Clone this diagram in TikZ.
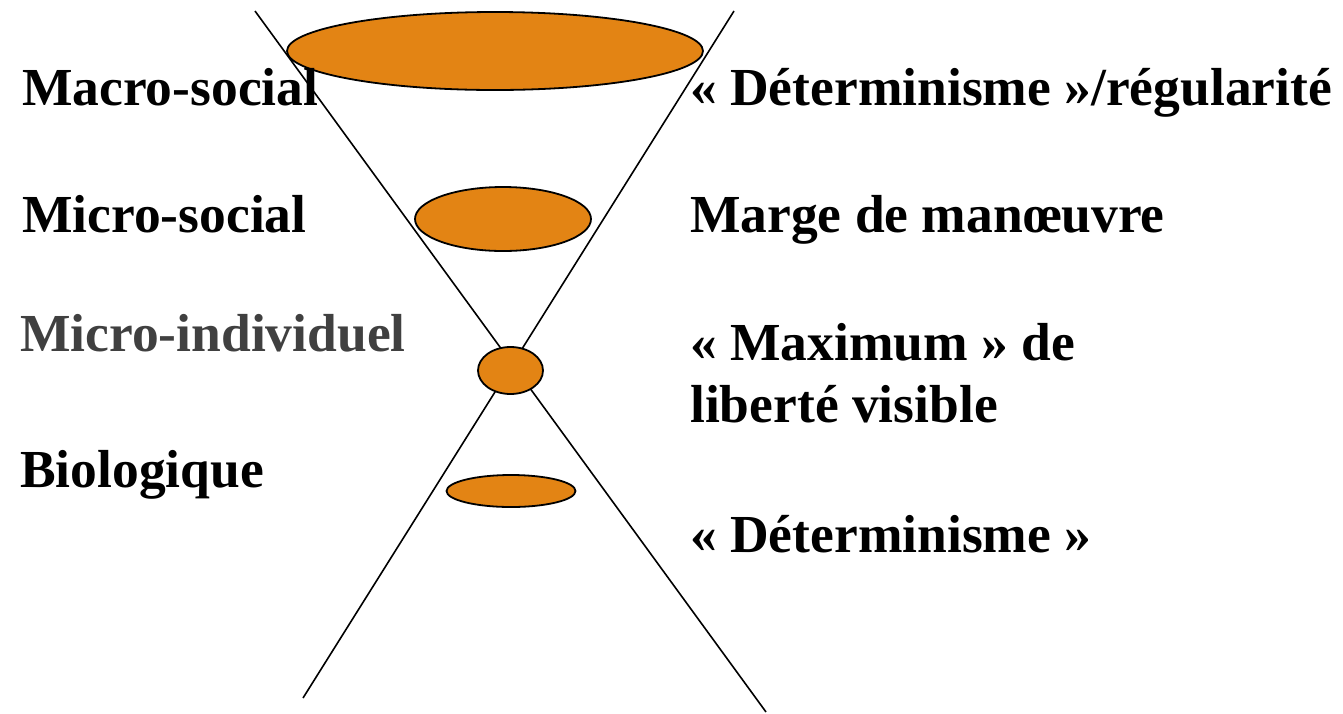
\documentclass[tikz,border=0pt]{standalone}
\usepackage{fontspec}
\setmainfont{Liberation Serif}
\usetikzlibrary{shapes.geometric}
\definecolor{discfill}{HTML}{E38414}
\definecolor{greytext}{HTML}{404040}
\begin{document}
\begin{tikzpicture}[x=1pt,y=-1pt,
  disc/.style={ellipse, draw=black, line width=1.8pt, fill=discfill, inner sep=0pt},
  lbl/.style={font=\fontsize{53.5}{60}\selectfont\bfseries, anchor=base west, inner sep=0pt},
  cone/.style={line width=1.6pt, black}]
\useasboundingbox (0,0) rectangle (1343,713);
% cone lines
\coordinate (a1) at (255,11);
\coordinate (a2) at (766,712);
\coordinate (b1) at (734,11);
\coordinate (b2) at (303,698);
\draw[cone] (a1) -- (a2);
\draw[cone] (b1) -- (b2);
% discs
\node[disc, minimum width=416pt, minimum height=78pt] (macro) at (495,51) {};
\node[disc, minimum width=176pt, minimum height=64pt] (micro) at (503,219) {};
\node[disc, minimum width=65pt, minimum height=47pt] (indiv) at (510.5,370.5) {};
\node[disc, minimum width=129pt, minimum height=32pt] (bio) at (511,491) {};
% left labels
\node[lbl] (lmacro) at (22,105) {Macro-social};
\node[lbl] (lmicro) at (22,232) {Micro-social};
\node[lbl, text=greytext] (lindiv) at (20,351) {Micro-individuel};
\node[lbl] (lbio) at (20,487) {Biologique};
% right labels
\node[lbl] (rmacro) at (690,105) {« Déterminisme »/régularité};
\node[lbl] (rmicro) at (690,232) {Marge de manœuvre};
\node[lbl] (rindiv1) at (690,360) {« Maximum » de};
\node[lbl] (rindiv2) at (690,422) {liberté visible};
\node[lbl] (rbio) at (690,552) {« Déterminisme »};
\end{tikzpicture}
\end{document}
